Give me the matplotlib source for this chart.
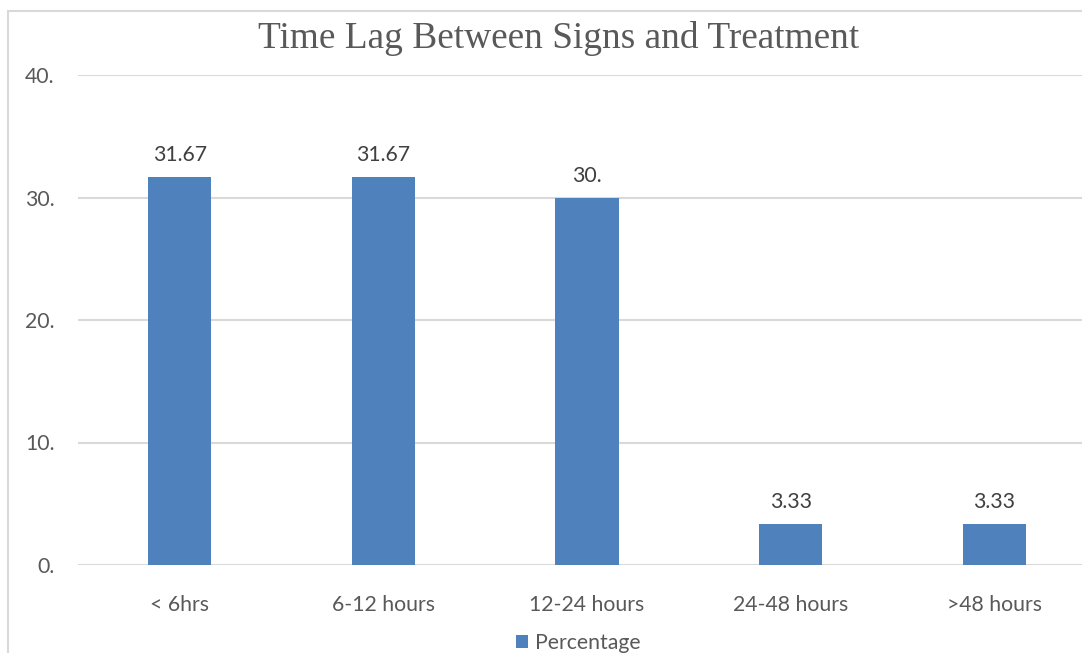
import matplotlib
matplotlib.use("Agg")
import matplotlib.pyplot as plt
from matplotlib.patches import Rectangle, Patch

categories = ["< 6hrs", "6-12 hours", "12-24 hours", "24-48 hours", ">48 hours"]
percentages = [31.67, 31.67, 30.0, 3.33, 3.33]
value_labels = ["31.67", "31.67", "30.", "3.33", "3.33"]
y_ticks = [0, 10, 20, 30, 40]
y_tick_labels = ["0.", "10.", "20.", "30.", "40."]

W, H = 1082, 653
fig = plt.figure(figsize=(W / 100, H / 100), dpi=100)
fig.patch.set_facecolor("white")

# chart-area frame (light gray)
fig.patches.append(Rectangle((8 / W, -0.05), 1.1, 1 - 11 / H + 0.05,
                             transform=fig.transFigure, fill=False,
                             edgecolor="#D9D9D9", linewidth=1.5, zorder=0))

ax = fig.add_axes([78 / W, 1 - 565 / H, (1096 - 78) / W, (565 - 75) / H])
ax.set_facecolor("none")

text_color = "#595959"
font = "Lato"
fs = 15.3

x = range(len(categories))
bars = ax.bar(x, percentages, width=0.31, color="#4F81BD", zorder=3,
              label="Percentage")

for xi, v, lab in zip(x, percentages, value_labels):
    ax.annotate(lab, (xi, v), xytext=(0, 8.5), textcoords="offset points",
                ha="center", va="bottom", fontsize=fs, color="#404040",
                family=font)

ax.set_xlim(-0.5, len(categories) - 0.5)
ax.set_ylim(0, 40)
ax.set_yticks(y_ticks)
ax.set_yticklabels(y_tick_labels, family=font, fontsize=fs, color=text_color)
ax.set_xticks(list(x))
ax.set_xticklabels(categories, family=font, fontsize=fs, color=text_color)
ax.tick_params(axis="both", length=0)
ax.tick_params(axis="y", pad=17)
ax.tick_params(axis="x", pad=21.5)
ax.grid(axis="y", color="#D9D9D9", linewidth=1.5, zorder=0)
for s in ax.spines.values():
    s.set_visible(False)

fig.text(559 / W, 1 - 38 / H, "Time Lag Between Signs and Treatment",
         ha="center", va="center", family="Liberation Serif", fontsize=26.8,
         color=text_color)

handle = Patch(facecolor="#4F81BD", edgecolor="none")
fig.legend([handle], ["Percentage"], loc="center", bbox_to_anchor=(578 / W, 1 - 643 / H),
           frameon=False, prop={"family": font, "size": fs}, labelcolor=text_color,
           handlelength=0.6, handleheight=0.6, handletextpad=0.3)

fig.savefig("out.png", dpi=100)
